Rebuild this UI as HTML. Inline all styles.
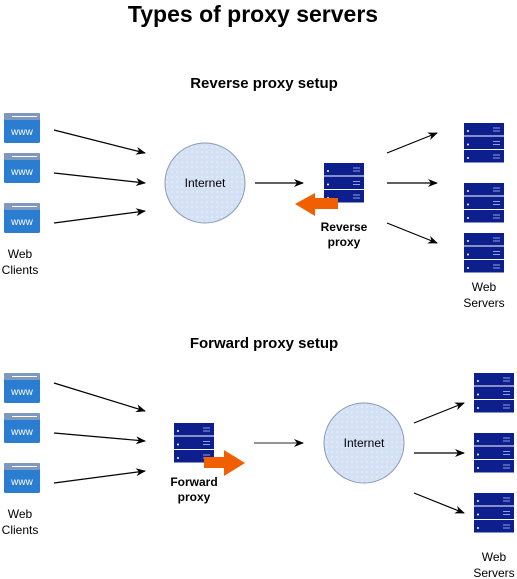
<!DOCTYPE html>
<html><head><meta charset="utf-8"><style>
body{margin:0;background:#fff}
svg{display:block;font-family:"Liberation Sans",Arial,sans-serif}
</style></head><body>
<svg width="517" height="579" viewBox="0 0 517 579" xmlns="http://www.w3.org/2000/svg">
<defs>
<marker id="a" markerWidth="10" markerHeight="8" refX="9" refY="4" orient="auto" markerUnits="userSpaceOnUse"><path d="M0,0 L10,4 L0,8 L3,4z" fill="#000"/></marker>
<pattern id="dots" width="5" height="5" patternUnits="userSpaceOnUse"><rect width="5" height="5" fill="#d4e1f5"/><circle cx="2" cy="2" r="0.6" fill="#fff"/></pattern>
<g id="br"><rect x="0" y="0" width="36" height="30" rx="1.5" fill="#2a7dd1"/><rect x="0" y="0" width="36" height="7" rx="1.5" fill="#7e99bd"/><line x1="8" y1="3.5" x2="33" y2="3.5" stroke="#fff" stroke-width="1"/><text x="18" y="22" font-size="10" fill="#fff" text-anchor="middle">www</text></g>
<g id="su"><rect x="0" y="0" width="40" height="12.5" fill="#0d1f8c"/><circle cx="4" cy="8" r="1" fill="#fff"/><line x1="29" y1="5" x2="36" y2="5" stroke="#8fa0e0" stroke-width="1"/><line x1="29" y1="8" x2="36" y2="8" stroke="#8fa0e0" stroke-width="1"/></g>
<g id="sv"><use href="#su"/><use href="#su" y="13.5"/><use href="#su" y="27"/></g>
</defs>
<text x="253" y="22" font-size="23" font-weight="bold" text-anchor="middle">Types of proxy servers</text>
<text x="264" y="88" font-size="15" font-weight="bold" text-anchor="middle">Reverse proxy setup</text>
<text x="264" y="348" font-size="15" font-weight="bold" text-anchor="middle">Forward proxy setup</text>

<use href="#br" x="4" y="113"/><use href="#br" x="4" y="153"/><use href="#br" x="4" y="203"/>
<text x="20" y="258" font-size="12" text-anchor="middle">Web</text><text x="20" y="274" font-size="12" text-anchor="middle">Clients</text>
<g stroke="#000" stroke-width="1.2" marker-end="url(#a)">
<line x1="54" y1="130" x2="145" y2="153"/><line x1="54" y1="173" x2="145" y2="183"/><line x1="54" y1="223" x2="145" y2="211"/>
<line x1="255" y1="183" x2="303" y2="183"/>
<line x1="387" y1="153" x2="437" y2="133"/><line x1="387" y1="183" x2="437" y2="183"/><line x1="387" y1="223" x2="437" y2="243"/>
<line x1="54" y1="383" x2="145" y2="411"/><line x1="54" y1="433" x2="145" y2="441"/><line x1="54" y1="483" x2="145" y2="471"/>
<line x1="254" y1="443" x2="303" y2="443" stroke="#555"/>
<line x1="414" y1="423" x2="464" y2="403"/><line x1="414" y1="453" x2="464" y2="453"/><line x1="414" y1="493" x2="464" y2="513"/>
</g>
<circle cx="205" cy="183" r="40" fill="url(#dots)" stroke="#8a9ab5"/>
<text x="205" y="187" font-size="12" text-anchor="middle">Internet</text>
<use href="#sv" x="324" y="163"/>
<path d="M338,198 L315,198 L315,193 L295,204 L315,216 L315,209 L338,209z" fill="#f06000"/>
<text x="344" y="231" font-size="12" font-weight="bold" text-anchor="middle">Reverse</text><text x="344" y="246" font-size="12" font-weight="bold" text-anchor="middle">proxy</text>
<use href="#sv" x="464" y="123"/><use href="#sv" x="464" y="183"/><use href="#sv" x="464" y="233"/>
<text x="484" y="291" font-size="12" text-anchor="middle">Web</text><text x="484" y="307" font-size="12" text-anchor="middle">Servers</text>

<use href="#br" x="4" y="373"/><use href="#br" x="4" y="413"/><use href="#br" x="4" y="463"/>
<text x="20" y="518" font-size="12" text-anchor="middle">Web</text><text x="20" y="534" font-size="12" text-anchor="middle">Clients</text>
<use href="#sv" x="174" y="423"/>
<path d="M204,457 L224,457 L224,450 L245,463 L224,476 L224,468 L204,468z" fill="#f06000"/>
<text x="194" y="486" font-size="12" font-weight="bold" text-anchor="middle">Forward</text><text x="194" y="501" font-size="12" font-weight="bold" text-anchor="middle">proxy</text>
<circle cx="364" cy="443" r="40" fill="url(#dots)" stroke="#8a9ab5"/>
<text x="364" y="447" font-size="12" text-anchor="middle">Internet</text>
<use href="#sv" x="474" y="373"/><use href="#sv" x="474" y="433"/><use href="#sv" x="474" y="493"/>
<text x="494" y="561" font-size="12" text-anchor="middle">Web</text><text x="494" y="577" font-size="12" text-anchor="middle">Servers</text>
</svg>
</body></html>
